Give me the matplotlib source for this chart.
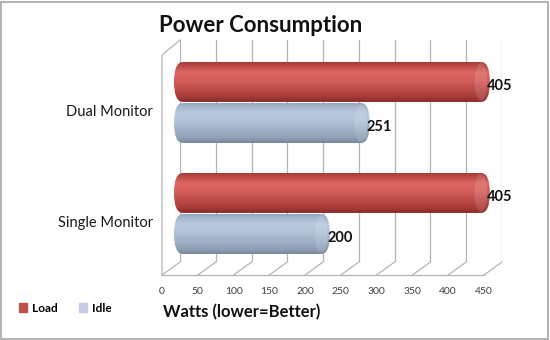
import numpy as np
import matplotlib
matplotlib.use("Agg")
import matplotlib.pyplot as plt
from matplotlib.patches import FancyBboxPatch, Rectangle, Ellipse
from matplotlib.transforms import ScaledTranslation
from matplotlib.colors import LinearSegmentedColormap

plt.rcParams['font.family'] = ['Lato', 'DejaVu Sans']

categories = ["Single Monitor", "Dual Monitor"]
load = [405, 405]
idle = [200, 251]
series_names = ["Load", "Idle"]
xticks = [0, 50, 100, 150, 200, 250, 300, 350, 400, 450]

W, H = 550, 340
fig = plt.figure(figsize=(W / 100, H / 100), dpi=100)


def px(l, t, r, b):
    # pixel box -> figure fraction rect
    return [l / W, 1 - b / H, (r - l) / W, (b - t) / H]


fig.patches.append(Rectangle((1 / W, 1 / H), 1 - 3 / W, 1 - 3 / H, transform=fig.transFigure,
                             fill=False, edgecolor="#a6a6a6", lw=1.2))

grid_col = "#b4b4b4"

# back wall with gridlines
wall = fig.add_axes(px(180, 40, 502, 262))
wall.set_xlim(0, 450)
wall.set_ylim(0, 1)
for v in xticks:
    wall.axvline(v, color=grid_col, lw=0.9)
wall.axis("off")

# floor + front tick labels
floor = fig.add_axes(px(162, 262, 502, 275))
floor.set_xlim(0, 475.2)
floor.set_ylim(0, 1)
for v in xticks:
    floor.plot([v, v + 25.2], [0, 1], color=grid_col, lw=0.9, clip_on=False)
floor.plot([0, 450], [0, 0], color=grid_col, lw=0.9, clip_on=False)
for s in floor.spines.values():
    s.set_visible(False)
floor.set_yticks([])
floor.set_xticks(xticks)
floor.tick_params(axis="x", length=0, pad=9, labelsize=7.5, labelcolor="#404040")
floor.patch.set_alpha(0)

# left side wall
side = fig.add_axes(px(162, 40, 180, 275))
side.set_xlim(0, 1)
side.set_ylim(0, 1)
side.plot([0, 0, 1], [0, 220 / 235, 1], color=grid_col, lw=0.9, clip_on=False)
side.axis("off")

# bars
ax = fig.add_axes(px(174, 40, 525, 262))
ax.set_xlim(0, 450)
ax.set_ylim(-0.437, 1.563)
ax.patch.set_alpha(0)
for s in ax.spines.values():
    s.set_visible(False)
ax.set_xticks([])
ax.tick_params(axis="y", length=0, pad=15, labelsize=10.5, labelcolor="#1a1a1a")
y = np.arange(len(categories))
h = 0.36
off = 0.185

red_cmap = LinearSegmentedColormap.from_list(
    "r", [(0, "#8a2a28"), (0.12, "#a63b38"), (0.55, "#d65e5a"), (0.75, "#dc6662"), (0.92, "#bb4845"), (1, "#a33d3a")])
blue_cmap = LinearSegmentedColormap.from_list(
    "b", [(0, "#7a889c"), (0.12, "#90a0b6"), (0.55, "#b2c3d8"), (0.75, "#b9c9de"), (0.92, "#a5b5cc"), (1, "#95a5bc")])

b_load = ax.barh(y + off, load, height=h, color="#c0504d")
b_idle = ax.barh(y - off, idle, height=h, color="#b9c9e0")

rx = 11.5
aspect = (h / 2) / rx
grad = np.linspace(0, 1, 64).reshape(-1, 1)
for bars, cmap, edge in [(b_load, red_cmap, "#9a3633"), (b_idle, blue_cmap, "#8a9ab2")]:
    for bar in bars:
        bar.set_visible(False)
        x0, y0 = bar.get_x(), bar.get_y()
        w, hh = bar.get_width(), bar.get_height()
        shape = FancyBboxPatch((x0, y0), w, hh, boxstyle=f"round,pad=0,rounding_size={rx}",
                               mutation_aspect=aspect, transform=ax.transData,
                               facecolor="none", edgecolor="none")
        ax.add_patch(shape)
        im = ax.imshow(grad, cmap=cmap, aspect="auto", extent=[x0, x0 + w, y0, y0 + hh],
                       origin="lower", zorder=2)
        im.set_clip_path(shape)
        cap = Ellipse((x0 + w - rx, y0 + hh / 2), 2 * rx * 0.75, hh * 0.96, facecolor="white",
                      alpha=0.12, edgecolor=edge, lw=0.6, zorder=3)
        ax.add_patch(cap)
ax.set_xlim(0, 450)
ax.set_ylim(-0.437, 1.563)

for bars, vals in [(b_load, load), (b_idle, idle)]:
    for bar, v in zip(bars, vals):
        t = ax.text(v, bar.get_y() + bar.get_height() / 2, str(v), ha="left", va="center",
                    fontsize=10.5, fontweight="bold", color="#111111", zorder=5)
        t.set_transform(ax.transData + ScaledTranslation(-3 / 100, -4 / 100, fig.dpi_scale_trans))

ax.set_yticks(y)
ax.set_yticklabels(categories)
for lab in ax.get_yticklabels():
    lab.set_transform(lab.get_transform() + ScaledTranslation(0, -8 / 100, fig.dpi_scale_trans))

fig.text(261 / W, 1 - 25 / H, "Power Consumption", ha="center", va="center",
         fontsize=16, fontweight="bold", color="#111111")
fig.text(163 / W, 1 - 312 / H, "Watts (lower=Better)", ha="left", va="center",
         fontsize=12, fontweight="bold", color="#111111")

handles = [Rectangle((0, 0), 1, 1, color="#c0504d"), Rectangle((0, 0), 1, 1, color="#c5cbe6")]
leg = fig.legend(handles, series_names, loc="center left", bbox_to_anchor=(8 / W, 1 - 308 / H),
                 ncol=2, frameon=False, handlelength=0.7, handleheight=0.7, handletextpad=0.4,
                 columnspacing=1.8, prop={"size": 8.5, "weight": "bold"})

fig.savefig("out.png", dpi=100)
